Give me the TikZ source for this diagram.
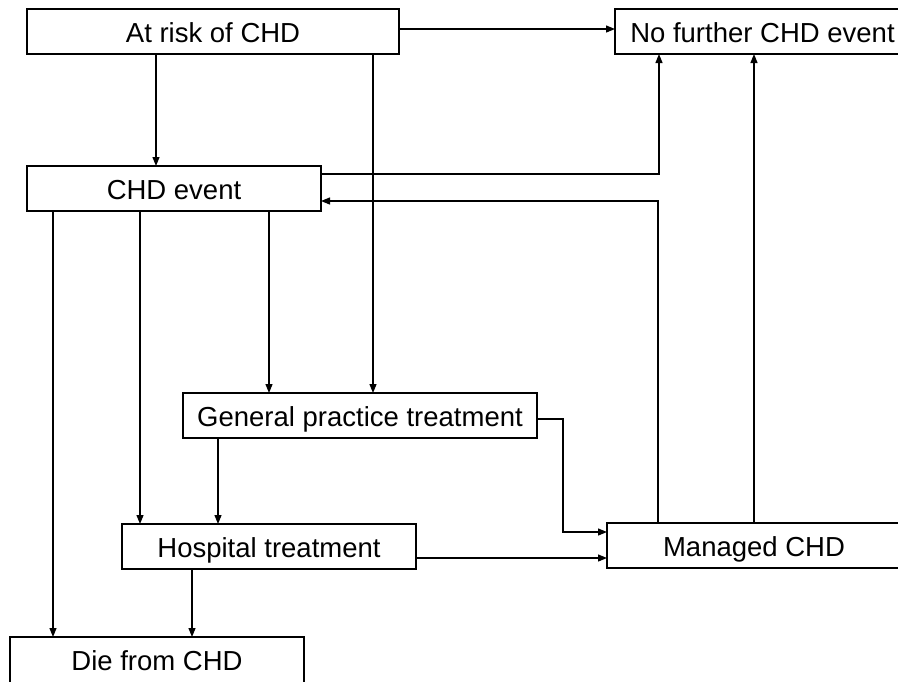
\documentclass[tikz,border=0pt]{standalone}
\usepackage{fontspec}
\setmainfont{Liberation Sans}
\usetikzlibrary{arrows.meta}
\begin{document}
\begin{tikzpicture}[x=1pt,y=-1pt,
  box/.style={draw,line width=1.2pt,rectangle,inner sep=0pt,outer sep=0pt,anchor=north west,minimum height=45pt,text height=33.5pt,text depth=11.5pt,font=\fontsize{27.5}{30}\selectfont},
  arr/.style={line width=1.2pt,-{Triangle[length=9pt,width=7pt]}}]
\useasboundingbox (0,0) rectangle (898,681);
\clip (0,0) rectangle (898,681);
\fill[white] (0,0) rectangle (898,681);
\node[box,minimum width=372pt] (risk) at (27,9) {At risk of CHD};
\node[box,minimum width=294pt] (chd) at (27,166) {CHD event};
\node[box,minimum width=295pt] (nofurther) at (615,9) {No further CHD event};
\node[box,minimum width=354pt] (gp) at (183,393) {General practice treatment};
\node[box,minimum width=294pt] (hosp) at (122,524) {Hospital treatment};
\node[box,minimum width=294pt] (managed) at (607,523) {Managed CHD};
\node[box,minimum width=294pt,minimum height=50pt,text depth=16.5pt] (die) at (10,637) {Die from CHD};
% connectors
\draw[arr] ([yshift=-20pt]risk.north east) coordinate (t1) -- (t1 -| nofurther.west);
\draw[arr] ([xshift=129pt]risk.south west) coordinate (t2) -- (t2 |- chd.north);
\draw[arr] ([xshift=346pt]risk.south west) coordinate (t3) -- (t3 |- gp.north);
\draw[arr] ([yshift=-8pt]chd.north east) -| ([xshift=44pt]nofurther.south west);
\draw[arr] ([xshift=51pt]managed.north west) |- ([yshift=-35pt]chd.north east);
\draw[arr] ([xshift=147pt]managed.north west) coordinate (t6) -- (t6 |- nofurther.south);
\draw[arr] ([xshift=242pt]chd.south west) coordinate (t7) -- (t7 |- gp.north);
\draw[arr] ([xshift=113pt]chd.south west) coordinate (t8) -- (t8 |- hosp.north);
\draw[arr] ([xshift=26pt]chd.south west) coordinate (t9) -- (t9 |- die.north);
\draw[arr] ([xshift=35pt]gp.south west) coordinate (t10) -- (t10 |- hosp.north);
\draw[arr] ([yshift=-26pt]gp.north east) -- ++(26,0) |- ([yshift=-9pt]managed.north west);
\draw[arr] ([yshift=-34pt]hosp.north east) coordinate (t12) -- (t12 -| managed.west);
\draw[arr] ([xshift=70pt]hosp.south west) coordinate (t13) -- (t13 |- die.north);
\end{tikzpicture}
\end{document}
